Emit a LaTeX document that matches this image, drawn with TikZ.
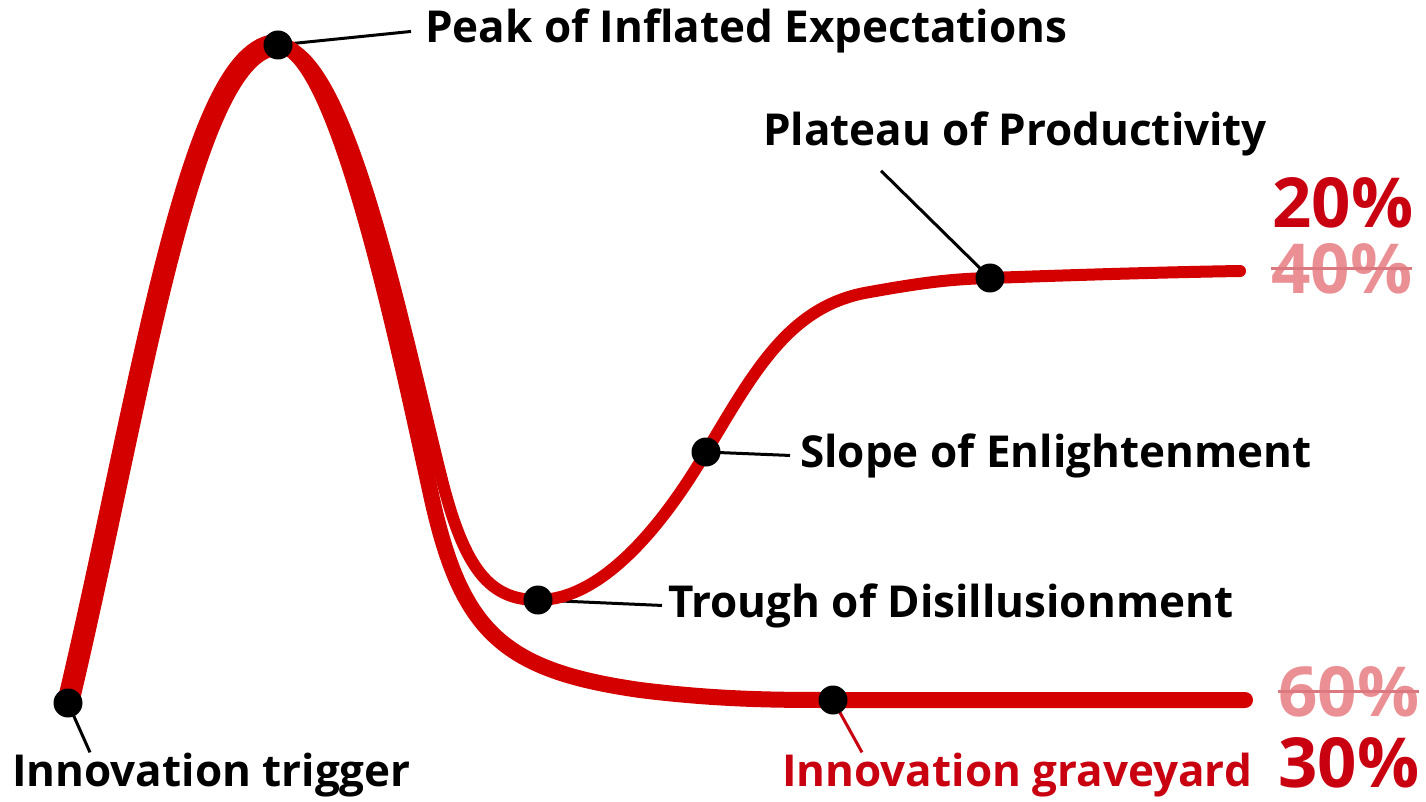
\documentclass[tikz,border=0pt]{standalone}
\usepackage{fontspec}
\setmainfont{Open Sans}
\definecolor{hyperred}{HTML}{D40000}
\definecolor{darkred}{HTML}{C80010}
\definecolor{fadedred}{HTML}{EA9095}
\definecolor{strikered}{HTML}{DC7880}
\begin{document}
\begin{tikzpicture}[x=1pt, y=-1pt,
    dot/.style={circle, fill=black, minimum size=29pt, inner sep=0pt},
    phase/.style={font=\fontsize{44}{52}\selectfont\bfseries, inner sep=0pt, anchor=base west},
    share/.style={font=\fontsize{69}{78}\selectfont\bfseries, inner sep=0pt, anchor=base west},
    leader/.style={black, line width=3pt},
    hype/.style={hyperred, line cap=round}]
    \useasboundingbox (0,0) rectangle (1426,802);

    % points on the curve
    \coordinate(trig) at (68,703);
    \coordinate(peak) at (278,45);
    \coordinate(trough) at (538,600);
    \coordinate(slope) at (706,452);
    \coordinate(plat) at (990,278);
    \coordinate(grave) at (833,700);
    \coordinate(platend) at (1240,271);
    \coordinate(graveend) at (1245,700);

    % labels
    \node(peaklabel) at (425,43) [phase] {Peak of Inflated Expectations};
    \node(platlabel) at (763,146) [phase] {Plateau of Productivity};
    \node(slopelabel) at (800,467) [phase] {Slope of Enlightenment};
    \node(troughlabel) at (668,617) [phase] {Trough of Disillusionment};
    \node(triglabel) at (12,786) [phase] {Innovation trigger};
    \node(gravelabel) at (782,786) [phase, text=darkred] {Innovation graveyard};

    \node(pct20) at (1272,228) [share, text=darkred] {20\%};
    \node(pct40) at (1271,293) [share, text=fadedred] {40\%};
    \node(pct60) at (1278,716) [share, text=fadedred] {60\%};
    \node(pct30) at (1278,787) [share, text=darkred] {30\%};
    \draw[strikered, line width=3pt] (pct40.west) -- (pct40.east);
    \draw[strikered, line width=3pt] (pct60.west) -- (pct60.east);

    % leaders
    \draw[leader] (peak) -- ([xshift=-14pt]peaklabel.west);
    \draw[leader] (plat) -- ([xshift=118pt, yshift=-14pt]platlabel.south west);
    \draw[leader] (slope) -- ([xshift=-10pt]slopelabel.west);
    \draw[leader] (trough) -- ([xshift=-6pt]troughlabel.west);
    \draw[leader] (trig) -- ([xshift=78pt]triglabel.north west);
    \draw[leader, darkred] (grave) -- ([xshift=80pt]gravelabel.north west);

    % hype curve
    \draw[hype, line width=22pt] (trig) .. controls (140,400) and (190,45) .. (peak);
    \draw[hype, line width=16pt] (peak) .. controls (335,45) and (395,330) .. (430,490)
        .. controls (460,630) and (500,670) .. (640,690)
        .. controls (720,700) and (780,700) .. (grave) -- (graveend);
    \draw[hype, line width=12pt] (peak) .. controls (347,45) and (402,320) .. (442,480)
        .. controls (465,570) and (490,600) .. (trough)
        .. controls (600,600) and (660,530) .. (slope)
        .. controls (755,370) and (790,305) .. (870,292)
        .. controls (920,283) and (950,279) .. (plat)
        .. controls (1100,274) and (1180,272) .. (platend);

    % dots
    \foreach \p in {trig, peak, trough, slope, plat, grave}
        \node(\p dot) at (\p) [dot] {};
\end{tikzpicture}
\end{document}
